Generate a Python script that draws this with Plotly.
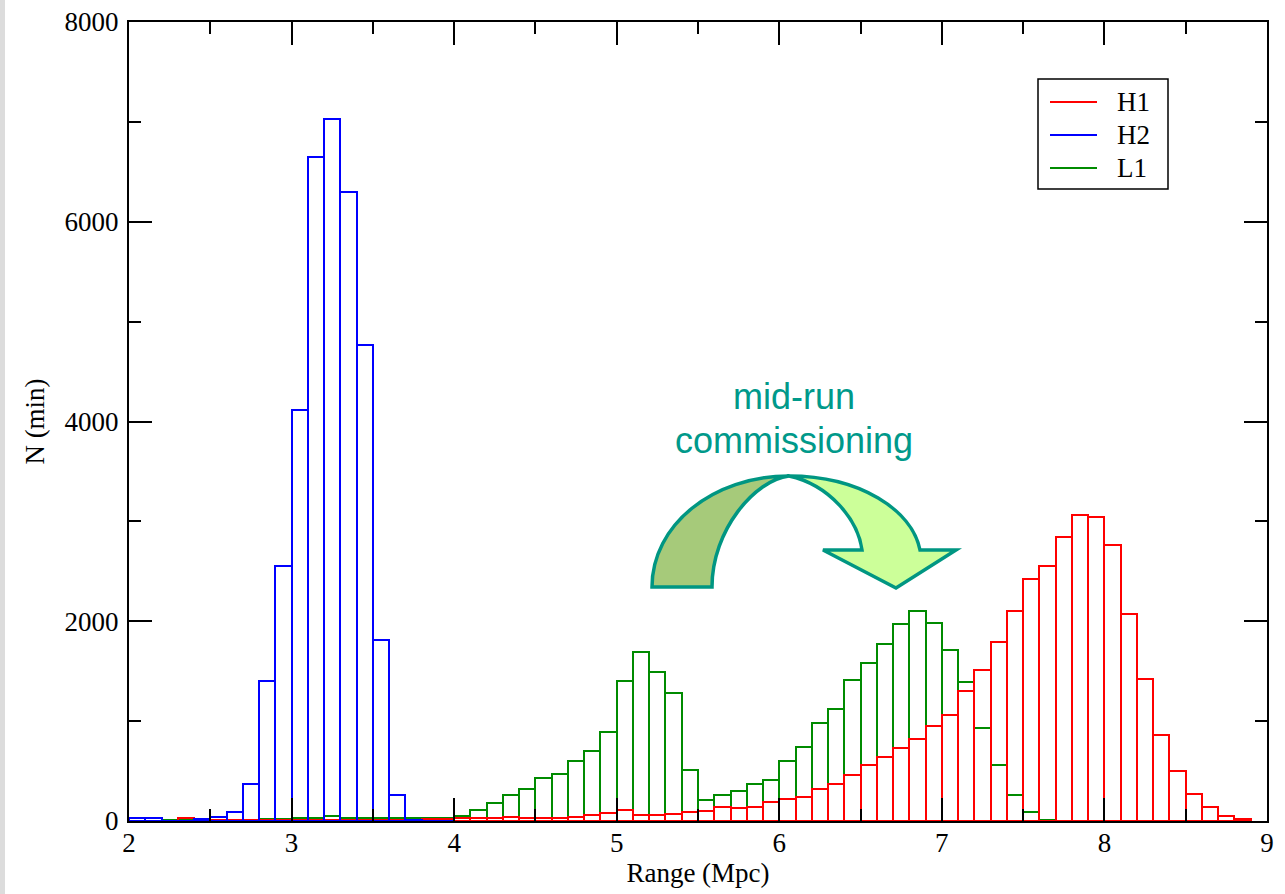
import plotly.graph_objects as go

# ---- data: histogram bins (0.1 Mpc wide), left edges ----
bin_start = [2.0, 2.1, 2.2, 2.3, 2.4, 2.5, 2.6, 2.7, 2.8, 2.9,
             3.0, 3.1, 3.2, 3.3, 3.4, 3.5, 3.6, 3.7, 3.8, 3.9,
             4.0, 4.1, 4.2, 4.3, 4.4, 4.5, 4.6, 4.7, 4.8, 4.9,
             5.0, 5.1, 5.2, 5.3, 5.4, 5.5, 5.6, 5.7, 5.8, 5.9,
             6.0, 6.1, 6.2, 6.3, 6.4, 6.5, 6.6, 6.7, 6.8, 6.9,
             7.0, 7.1, 7.2, 7.3, 7.4, 7.5, 7.6, 7.7, 7.8, 7.9,
             8.0, 8.1, 8.2, 8.3, 8.4, 8.5, 8.6, 8.7, 8.8, 8.9]

h1_counts = [0, 0, 5, 27, 15, 10, 10, 12, 12, 12,
             10, 10, 12, 12, 12, 12, 13, 15, 20, 20,
             33, 30, 33, 43, 33, 33, 33, 43, 57, 80,
             110, 57, 57, 67, 90, 100, 144, 134, 144, 190,
             220, 244, 324, 371, 460, 558, 642, 728, 819, 949,
             1059, 1300, 1510, 1788, 2105, 2419, 2550, 2840, 3064, 3041,
             2764, 2068, 1417, 859, 501, 267, 144, 47, 23, 0]

h2_counts = [27, 27, 5, 5, 20, 40, 93, 374, 1405, 2550,
             4120, 6650, 7025, 6295, 4770, 1810, 265, 13, 5, 3,
             0, 0, 0, 0, 0, 0, 0, 0, 0, 0,
             0, 0, 0, 0, 0, 0, 0, 0, 0, 0,
             0, 0, 0, 0, 0, 0, 0, 0, 0, 0,
             0, 0, 0, 0, 0, 0, 0, 0, 0, 0,
             0, 0, 0, 0, 0, 0, 0, 0, 0, 0]

l1_counts = [0, 0, 8, 8, 10, 10, 12, 15, 18, 20,
             33, 33, 50, 33, 33, 33, 33, 33, 33, 33,
             50, 114, 180, 260, 324, 434, 471, 601, 705, 896,
             1400, 1691, 1490, 1277, 515, 210, 260, 304, 371, 414,
             605, 742, 985, 1119, 1410, 1581, 1768, 1968, 2102, 1982,
             1711, 1387, 936, 558, 257, 90, 13, 0, 0, 0,
             0, 0, 0, 0, 0, 0, 0, 0, 0, 0]

series_names = ["H1", "H2", "L1"]
series_colors = ["#ff0000", "#0000ff", "#008b00"]

x_ticks = [2, 3, 4, 5, 6, 7, 8, 9]
y_ticks = [0, 2000, 4000, 6000, 8000]

# ---- layout constants (pixels) ----
W, H = 1285, 894
ML, MR, MT, MB = 129, 18, 22, 73
PW, PH = W - ML - MR, H - MT - MB


def pp(X, Y):
    """page pixel -> paper coords"""
    return (X - ML) / PW, (H - MB - Y) / PH


def path(cmds):
    out = []
    for c in cmds:
        op = c[0]
        pts = c[1:]
        out.append(op + " ".join("%.5f,%.5f" % pp(*p) for p in pts))
    return " ".join(out) + " Z"


fig = go.Figure()

data = {"H1": h1_counts, "H2": h2_counts, "L1": l1_counts}
color_of = dict(zip(series_names, series_colors))
for name in ["L1", "H1", "H2"]:
    vals = [v if v > 0 else None for v in data[name]]
    fig.add_trace(go.Bar(
        x=bin_start, y=vals, width=0.1, offset=0, name=name,
        marker=dict(color="rgba(0,0,0,0)", line=dict(color=color_of[name], width=2)),
        showlegend=False))

serif = "Liberation Serif, Times New Roman, serif"
axis_common = dict(
    showline=True, linecolor="black", linewidth=2, mirror="ticks",
    ticks="inside", ticklen=23, tickwidth=2, tickcolor="black",
    showgrid=False, zeroline=False, automargin=False,
    tickfont=dict(family=serif, size=27, color="black"),
)

fig.update_xaxes(range=[2, 9], tickvals=x_ticks,
                 minor=dict(dtick=0.5, tick0=2, ticks="inside", ticklen=12,
                            tickwidth=2, tickcolor="black"),
                 title=dict(text="Range (Mpc)", font=dict(family=serif, size=27, color="black"),
                            standoff=6),
                 ticklabelstandoff=-3,
                 **axis_common)
fig.update_yaxes(range=[0, 8000], tickvals=y_ticks,
                 minor=dict(dtick=1000, tick0=0, ticks="inside", ticklen=12,
                            tickwidth=2, tickcolor="black"),
                 title=dict(text="N (min)", font=dict(family=serif, size=27, color="black"),
                            standoff=12),
                 ticklabelstandoff=3,
                 **axis_common)

teal = "#009682"
shapes = [
    # grey strip at the left page edge
    dict(type="rect", xref="paper", yref="paper",
         x0=pp(0, 0)[0], x1=pp(5, 0)[0], y0=pp(0, H)[1], y1=pp(0, 0)[1],
         fillcolor="#dcdcdc", line=dict(width=0), layer="below"),
    # dark (left) part of the curved arrow
    dict(type="path", xref="paper", yref="paper",
         path=path([("M", (652, 587)),
                    ("C", (652, 525), (713, 476), (789, 476)),
                    ("C", (755, 480), (712, 530), (712, 587)),
                    ("L", (652, 587))]),
         fillcolor="#a6ca7a", line=dict(color=teal, width=3.5)),
    # light (right) part with arrow head
    dict(type="path", xref="paper", yref="paper",
         path=path([("M", (789, 476)),
                    ("C", (860, 476), (912, 510), (920, 550)),
                    ("L", (956, 550)),
                    ("L", (896, 588)),
                    ("L", (823, 550)),
                    ("L", (862, 550)),
                    ("C", (858, 520), (830, 485), (789, 476))]),
         fillcolor="#ccff99", line=dict(color=teal, width=3.5)),
]

sans = "Liberation Sans, Arial, sans-serif"
annotations = [
    dict(xref="paper", yref="paper", x=pp(794, 0)[0], y=pp(0, 397)[1],
         text="mid-run", showarrow=False, xanchor="center", yanchor="middle",
         font=dict(family=sans, size=36, color="#00998a")),
    dict(xref="paper", yref="paper", x=pp(794, 0)[0], y=pp(0, 441)[1],
         text="commissioning", showarrow=False, xanchor="center", yanchor="middle",
         font=dict(family=sans, size=36, color="#00998a")),
]

# ---- legend box (drawn in page pixels) ----
lx0, ly0 = pp(1038, 79)
lx1, ly1 = pp(1168, 189)
shapes.append(dict(type="rect", xref="paper", yref="paper",
                   x0=lx0, x1=lx1, y0=ly1, y1=ly0,
                   fillcolor="white", line=dict(color="black", width=1.5)))
legend_rows_y = [102, 135, 168]
for name, yy in zip(series_names, legend_rows_y):
    xa, ya = pp(1050, yy)
    xb, _ = pp(1097, yy)
    shapes.append(dict(type="line", xref="paper", yref="paper",
                       x0=xa, x1=xb, y0=ya, y1=ya,
                       line=dict(color=color_of[name], width=2)))
    tx, _ = pp(1115, yy)
    annotations.append(dict(xref="paper", yref="paper", x=tx, y=ya,
                            text=name, showarrow=False, xanchor="left",
                            yanchor="middle",
                            font=dict(family=serif, size=27, color="black")))

fig.update_layout(
    width=W, height=H,
    margin=dict(l=ML, r=MR, t=MT, b=MB, pad=0),
    paper_bgcolor="white", plot_bgcolor="white",
    barmode="overlay", bargap=0,
    shapes=shapes, annotations=annotations,
    showlegend=False,
)

fig.write_html("out.html")
